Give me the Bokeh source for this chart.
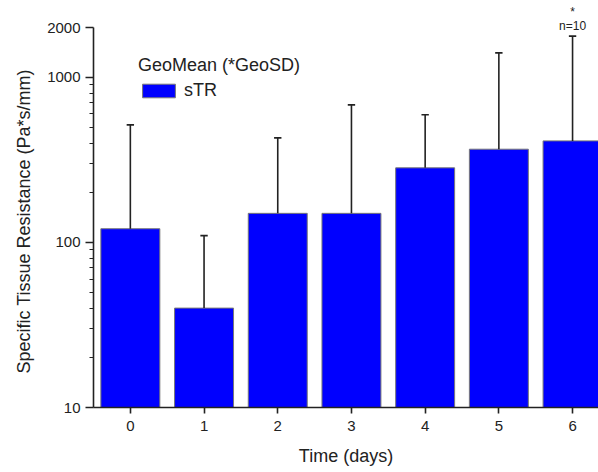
from bokeh.plotting import figure
from bokeh.models import Range1d, FixedTicker, ColumnDataSource, Legend, LegendItem, Title
from bokeh.core.properties import value
from bokeh.embed import file_html
from bokeh.resources import INLINE

days = [0, 1, 2, 3, 4, 5, 6]
geomean = [121, 40, 150, 150, 283, 367, 412]
geosd_top = [515, 110, 430, 681, 593, 1407, 1777]
n_labels = ["", "", "", "", "", "", "n=10"]
star_labels = ["", "", "", "", "", "", "*"]
y_ticks = [10, 100, 1000, 2000]
y_minor = [20, 30, 40, 50, 60, 70, 80, 90, 200, 300, 400, 500, 600, 700, 800, 900]
y_label = "Specific Tissue Resistance (Pa*s/mm)"
x_label = "Time (days)"

FONT = "Liberation Sans"

src = ColumnDataSource(dict(x=days, top=geomean, err=geosd_top,
                            xl=[d - 0.05 for d in days], xr=[d + 0.05 for d in days],
                            n=n_labels, star=star_labels))

p = figure(width=598, height=472, output_backend="svg", toolbar_location=None,
           y_axis_type="log", x_range=Range1d(-0.5, 6.352), y_range=Range1d(10, 2920),
           min_border_left=93, min_border_right=0, min_border_top=0, min_border_bottom=65)
p.outline_line_color = None
p.xgrid.visible = False
p.ygrid.visible = False
p.background_fill_color = "white"
p.border_fill_color = "white"

bars = p.vbar(x="x", top="top", bottom=10, width=0.8, source=src,
              fill_color="#0000FF", line_color="#777777", line_width=1)
p.segment(x0="x", y0="top", x1="x", y1="err", source=src, line_color="#222222", line_width=1.6)
p.segment(x0="xl", y0="err", x1="xr", y1="err", source=src, line_color="#222222", line_width=1.6)

p.text(x="x", y="err", text="n", source=src, text_font=value(FONT), text_font_size="12px",
       text_align="center", text_baseline="middle", y_offset=-10, text_color="#222222")
p.text(x="x", y="err", text="star", source=src, text_font=value(FONT), text_font_size="12px",
       text_align="center", text_baseline="middle", y_offset=-24, text_color="#222222")

xa = p.xaxis[0]
xa.ticker = FixedTicker(ticks=days)
xa.axis_label = x_label
xa.axis_label_text_font = FONT
xa.axis_label_text_font_size = "18px"
xa.axis_label_text_font_style = "normal"
xa.axis_label_text_color = "#222222"
xa.axis_label_standoff = 12
xa.major_label_text_font = FONT
xa.major_label_text_font_size = "15px"
xa.major_label_text_color = "#222222"
xa.major_label_standoff = 7
xa.major_tick_out = 6
xa.major_tick_in = 0
xa.minor_tick_out = 0
xa.axis_line_width = 1.6
xa.axis_line_color = "#222222"
xa.major_tick_line_color = "#222222"
xa.major_tick_line_width = 1.6

ya = p.yaxis[0]
ya.ticker = FixedTicker(ticks=y_ticks, minor_ticks=y_minor)
ya.bounds = (10, 2000)
ya.major_label_text_font = FONT
ya.major_label_text_font_size = "15px"
ya.major_label_text_color = "#222222"
ya.major_label_standoff = 5
ya.major_tick_out = 8
ya.major_tick_in = 0
ya.minor_tick_out = 4
ya.minor_tick_in = 0
ya.axis_line_width = 1.6
ya.axis_line_color = "#222222"
ya.major_tick_line_color = "#222222"
ya.major_tick_line_width = 1.6
ya.minor_tick_line_color = "#222222"
ya.minor_tick_line_width = 1.2

ytitle = Title(text=y_label, align="left", vertical_align="bottom", offset=34, standoff=21,
               text_font=FONT, text_font_size="18px", text_font_style="normal",
               text_color="#222222")
p.add_layout(ytitle, "left")

legend = Legend(items=[LegendItem(label="sTR", renderers=[bars])],
                title="GeoMean (*GeoSD)", location=(45, 306))
legend.title_text_font = FONT
legend.title_text_font_size = "18px"
legend.title_text_font_style = "normal"
legend.title_text_color = "#222222"
legend.title_standoff = 4
legend.label_text_font = FONT
legend.label_text_font_size = "18px"
legend.label_text_color = "#222222"
legend.glyph_width = 41
legend.glyph_height = 17
legend.label_height = 17
legend.label_standoff = 5
legend.padding = 0
legend.margin = 0
legend.spacing = 0
legend.border_line_color = None
legend.background_fill_alpha = 0
p.add_layout(legend, "center")

open("out.html", "w").write(file_html(p, INLINE))
